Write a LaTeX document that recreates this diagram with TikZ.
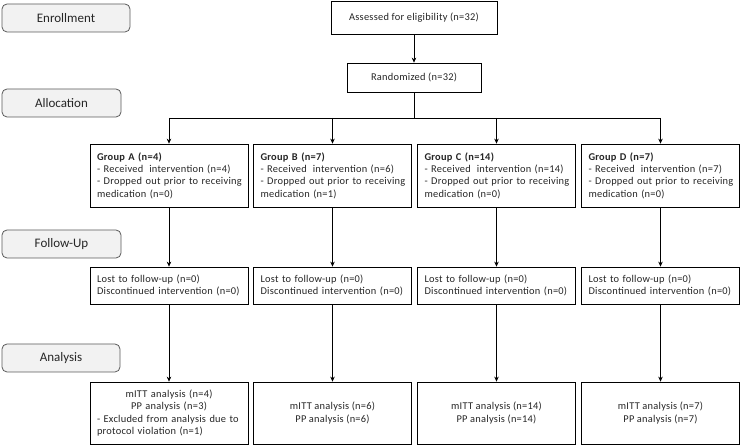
\documentclass[tikz,border=0pt]{standalone}
\usepackage{fontspec}
\setmainfont{Carlito}
\newfontfamily\boxfont[LetterSpace=2.5]{Carlito}
\usetikzlibrary{arrows.meta}
\definecolor{stagefill}{HTML}{F2F2F2}
\definecolor{stageline}{HTML}{5A5A5A}
\definecolor{txt}{HTML}{262626}
\begin{document}
\begin{tikzpicture}[x=1pt,y=-1pt,
  stage/.style={draw=stageline,fill=stagefill,rounded corners=5pt,line width=0.8pt,
    inner sep=0pt,font=\fontsize{13}{15}\selectfont,text=txt},
  flowbox/.style={draw=black,line width=0.7pt,inner sep=0pt,fill=white,
    font=\boxfont\fontsize{10.4}{12.4}\selectfont,text=txt},
  conn/.style={draw=black,line width=0.7pt},
  arr/.style={conn,-{Stealth[length=5pt,width=4.5pt]}}
]
\useasboundingbox (0,0) rectangle (740,446);
% stage labels
\node[stage,minimum width=128pt,minimum height=28pt] (enr) at (66,18) {Enrollment};
\node[stage,minimum width=119pt,minimum height=28pt] (alloc) at (61.5,103) {Allocation};
\node[stage,minimum width=119pt,minimum height=28pt] (fup) at (61.5,244) {Follow-Up};
\node[stage,minimum width=118pt,minimum height=28pt] (ana) at (61,358) {Analysis};
% top boxes
\node[flowbox,minimum width=166pt,minimum height=33pt] (elig) at (414,17.5) {Assessed for eligibility (n=32)};
\node[flowbox,minimum width=134pt,minimum height=29pt] (rand) at (414,77.5) {Randomized (n=32)};
% group boxes
\foreach \n/\cx/\g/\r/\d in {A/169/A (n=4)/4/0, B/332.5/B (n=7)/6/1, C/496.5/C (n=14)/14/0, D/660.5/D (n=7)/7/0}{
  \node[flowbox,minimum width=158pt,minimum height=63pt,align=left,text width=144pt] (g\n) at (\cx,175.5)
    {\mbox{\textbf{Group \g}}\\\mbox{- Received\hspace{2.5pt} intervention (n=\r)}\\\mbox{- Dropped out prior to receiving}\\\mbox{medication (n=\d)}};
  \node[flowbox,minimum width=158pt,minimum height=37pt,align=left,text width=144pt] (f\n) at (\cx,285.5)
    {\mbox{Lost to follow-up (n=0)}\\\mbox{Discontinued intervention (n=0)}};
}
% analysis boxes
\node[flowbox,minimum width=158pt,minimum height=62pt,text width=144pt] (aA) at (169,413)
  {\centering mITT analysis (n=4)\\PP analysis (n=3)\par
   \raggedright \mbox{- Excluded from analysis due to}\\\mbox{protocol violation (n=1)}\par};
\node[flowbox,minimum width=158pt,minimum height=62pt,align=center] (aB) at (332.5,413) {mITT analysis (n=6)\\PP analysis (n=6)};
\node[flowbox,minimum width=158pt,minimum height=62pt,align=center] (aC) at (496.5,413) {mITT analysis (n=14)\\PP analysis (n=14)};
\node[flowbox,minimum width=158pt,minimum height=62pt,align=center] (aD) at (660.5,413) {mITT analysis (n=7)\\PP analysis (n=7)};
% connectors
\draw[arr] (elig) -- (rand);
\coordinate (split) at (414,118);
\draw[conn] (rand.south) -- (split);
\draw[conn] (gA.north |- split) -- (gD.north |- split);
\foreach \n in {A,B,C,D}{
  \draw[arr] (g\n.north |- split) -- (g\n.north);
  \draw[arr] (g\n) -- (f\n);
  \draw[arr] (f\n) -- (a\n);
}
\end{tikzpicture}
\end{document}
